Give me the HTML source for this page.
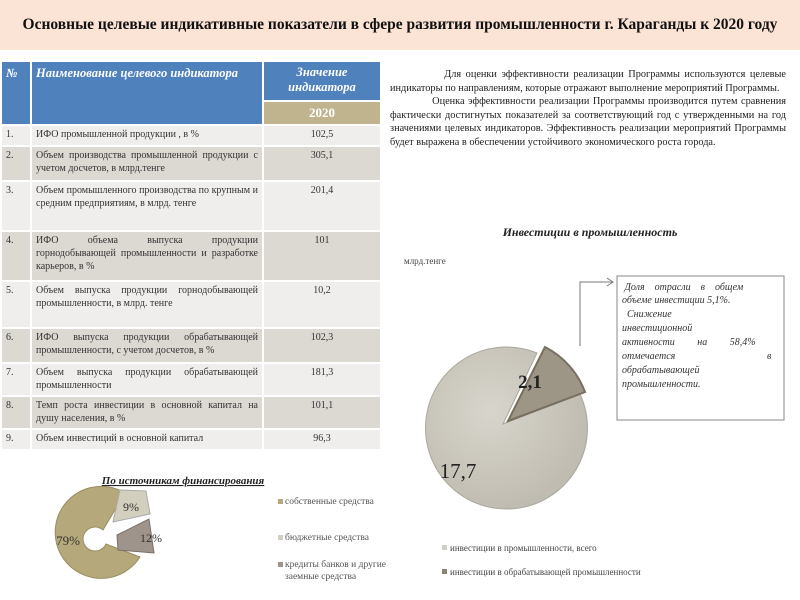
<!DOCTYPE html>
<html><head><meta charset="utf-8"><style>
body{margin:0;width:800px;height:600px;background:#fff;position:relative;font-family:"Liberation Serif",serif;overflow:hidden}
.title{position:absolute;left:0;top:0;width:800px;height:50px;background:#fbe4d5;font:bold 15.5px "Liberation Serif",serif;line-height:50px;text-align:center;color:#111;white-space:nowrap}
.tb{position:absolute;left:2px;top:62px;width:378px;font-size:10px;color:#333}
.r{display:flex;margin-bottom:2px}
.r div{box-sizing:border-box;padding:2px 4px;line-height:13px;margin-right:2px}
.c1{width:28px}.c2{width:230px;text-align:justify}.c3{width:116px;margin-right:0!important;text-align:center}
.a div{background:#efeeec}.b div{background:#dcd8d2}
.h{position:absolute;background:#4f81bd;color:#fff;font-style:italic;font-weight:bold;font-size:12.5px;box-sizing:border-box;padding:3px 4px;line-height:16px}
.y{position:absolute;background:#c0b48f;color:#fff;font-weight:bold;text-align:center;font-size:13px;line-height:21px}
.txt{position:absolute;left:390px;top:68px;width:396px;font-size:10.3px;line-height:13.5px;text-align:justify;color:#222}
</style></head><body>
<div class="title">Основные целевые индикативные показатели в сфере развития промышленности г. Караганды к 2020 году</div>
<div class="h" style="left:2px;top:62px;width:28px;height:62px">№</div>
<div class="h" style="left:32px;top:62px;width:230px;height:62px">Наименование целевого индикатора</div>
<div class="h" style="left:264px;top:62px;width:116px;height:38px;text-align:center;line-height:15px">Значение индикатора</div>
<div class="y" style="left:264px;top:102px;width:116px;height:22px">2020</div>
<div class="tb" style="top:126px">
<div class="r a" style="height:19px"><div class="c1">1.</div><div class="c2">ИФО промышленной продукции , в %</div><div class="c3">102,5</div></div>
<div class="r b" style="height:33px"><div class="c1">2.</div><div class="c2">Объем производства промышленной продукции с учетом досчетов, в млрд.тенге</div><div class="c3">305,1</div></div>
<div class="r a" style="height:48px"><div class="c1">3.</div><div class="c2">Объем промышленного производства по крупным и средним предприятиям, в млрд. тенге</div><div class="c3">201,4</div></div>
<div class="r b" style="height:48px"><div class="c1">4.</div><div class="c2">ИФО объема выпуска продукции горнодобывающей промышленности и разработке карьеров, в %</div><div class="c3">101</div></div>
<div class="r a" style="height:45px"><div class="c1">5.</div><div class="c2">Объем выпуска продукции горнодобывающей промышленности, в млрд. тенге</div><div class="c3">10,2</div></div>
<div class="r b" style="height:33px"><div class="c1">6.</div><div class="c2">ИФО выпуска продукции обрабатывающей промышленности, с учетом досчетов, в %</div><div class="c3">102,3</div></div>
<div class="r a" style="height:31px"><div class="c1">7.</div><div class="c2">Объем выпуска продукции обрабатывающей промышленности</div><div class="c3">181,3</div></div>
<div class="r b" style="height:31px"><div class="c1">8.</div><div class="c2">Темп роста инвестиции в основной капитал на душу населения, в %</div><div class="c3">101,1</div></div>
<div class="r a" style="height:19px"><div class="c1">9.</div><div class="c2">Объем инвестиций в основной капитал</div><div class="c3">96,3</div></div>
</div>
<div class="txt">&nbsp;&nbsp;&nbsp;&nbsp;&nbsp;&nbsp;&nbsp;&nbsp;&nbsp;&nbsp;&nbsp;&nbsp;Для оценки эффективности реализации Программы используются целевые индикаторы по направлениям, которые отражают выполнение мероприятий Программы.<br>&nbsp;&nbsp;&nbsp;&nbsp;&nbsp;&nbsp;&nbsp;&nbsp;&nbsp;&nbsp;&nbsp;&nbsp;Оценка эффективности реализации Программы производится путем сравнения фактически достигнутых показателей за соответствующий год с утвержденными на год значениями целевых индикаторов. Эффективность реализации мероприятий Программы будет выражена в обеспечении устойчивого экономического роста города.</div>
<svg width="800" height="600" style="position:absolute;left:0;top:0" font-family="Liberation Serif, serif">
<defs><radialGradient id="g1" cx="0.4" cy="0.4" r="0.7"><stop offset="0" stop-color="#d8d5cc"/><stop offset="1" stop-color="#bcb8ad"/></radialGradient></defs>
<text x="590" y="236" font-size="12" font-style="italic" font-weight="bold" text-anchor="middle" fill="#222">Инвестиции в промышленность</text>
<text x="404" y="264" font-size="9" fill="#444">млрд.тенге</text>
<path d="M503,424 L537,353 A81,81 0 1 0 580,394 Z" fill="url(#g1)" stroke="#aaa79d"/>
<path d="M508,421 L545,347 A83,83 0 0 1 585,392 Z" fill="#9d9686" stroke="#77705f" stroke-width="2"/>
<text x="530" y="388" font-size="19" font-weight="bold" fill="#222" text-anchor="middle">2,1</text>
<text x="458" y="478" font-size="21" fill="#222" text-anchor="middle">17,7</text>
<path d="M580,346 V282 H612" fill="none" stroke="#777"/><path d="M607,278 L613,282 L607,286" fill="none" stroke="#777"/>
<rect x="617" y="276" width="167" height="144" fill="#fff" stroke="#888"/>
<g font-size="10" font-style="italic" fill="#333">
<text x="622" y="290">&#160;Доля&#160;&#160;&#160; отрасли&#160;&#160;&#160; в&#160;&#160;&#160; общем</text>
<text x="622" y="303">объеме инвестиции 5,1%.</text>
<text x="622" y="317">&#160;&#160;Снижение</text>
<text x="622" y="331">инвестиционной</text>
<text x="622" y="345">активности&#160;&#160;&#160;&#160;&#160;&#160;&#160;&#160; на&#160;&#160;&#160;&#160;&#160;&#160;&#160;&#160; 58,4%</text>
<text x="622" y="359">отмечается</text><text x="767" y="359">в</text>
<text x="622" y="373">обрабатывающей</text>
<text x="622" y="387">промышленности.</text>
</g>
<g font-size="9" fill="#444">
<rect x="442" y="545" width="5" height="5" fill="#d0cdc4"/><text x="450" y="551">инвестиции в промышленности, всего</text>
<rect x="442" y="569" width="5" height="5" fill="#8a8476"/><text x="450" y="575">инвестиции в обрабатывающей промышленности</text>
</g>
<text x="183" y="484" font-size="11" font-style="italic" font-weight="bold" text-anchor="middle" fill="#222" text-decoration="underline">По источникам финансирования</text>
<path d="M125,493 A46,46 0 1 0 140,557 L106,544 A12,12 0 1 1 103,530 Z" fill="#b5a87a" stroke="#9a8d62"/>
<path d="M120,490 L146,491 L150,514 L113,522 Z" fill="#d3cfbe" stroke="#aaa"/>
<path d="M117,535 L149,519 L154,553 L118,550 Z" fill="#9f948b" stroke="#7a7068"/>
<text x="68" y="545" font-size="13" fill="#333" text-anchor="middle">79%</text>
<text x="131" y="511" font-size="12" fill="#333" text-anchor="middle">9%</text>
<text x="151" y="542" font-size="12" fill="#333" text-anchor="middle">12%</text>
<g font-size="9.5" fill="#555">
<rect x="278" y="499" width="5" height="5" fill="#b5a87a"/><text x="285" y="504">собственные средства</text>
<rect x="278" y="535" width="5" height="5" fill="#d3cfbe"/><text x="285" y="540">бюджетные средства</text>
<rect x="278" y="562" width="5" height="5" fill="#9f948b"/><text x="285" y="567">кредиты банков и другие</text>
<text x="285" y="579">заемные средства</text>
</g>
</svg>
</body></html>
